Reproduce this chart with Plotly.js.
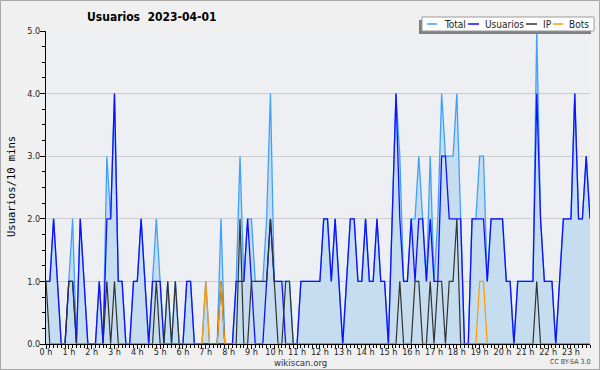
<!DOCTYPE html>
<html><head><meta charset="utf-8">
<script src="https://cdn.plot.ly/plotly-3.0.1.min.js"></script>
<style>html,body{margin:0;padding:0;background:#f0f0f0;}#chart{width:600px;height:370px;}</style>
</head><body><div id="chart"></div>
<script>
// 10-minute slots over the day (144 slots)
const slotMinutes = 10;
const total = [1,1,2,1,0,0,1,2,0,2, 1,0,0,0,1,0,3,2,4,1, 1,0,0,1,1,2,1,0,1,2,
  1,0,1,0,1,0,0,1,1,0, 0,0,1,0,0,0,2,0,0,0, 1,3,1,2,2,1,1,1,2,4,
  1,1,1,1,1,0,0,1,1,1, 1,1,1,2,2,1,2,1,0,1, 2,2,1,1,2,1,1,2,1,1,
  0,2,4,3,1,1,2,2,3,2, 1,3,1,2,4,3,3,3,4,2, 0,0,2,2,3,3,1,2,2,2,
  2,1,1,0,1,1,1,1,1,5, 2,1,1,1,0,1,2,2,2,4, 2,2,3,2];
const usuarios = [1,1,2,1,0,0,1,1,0,2, 1,0,0,0,1,0,2,2,4,1, 1,0,0,1,1,2,1,0,1,1,
  1,0,0,0,0,0,0,1,1,0, 0,0,0,0,0,0,0,0,0,0, 1,1,1,2,1,0,0,0,1,2,
  1,1,1,0,0,0,0,1,1,1, 1,1,1,2,2,1,2,1,0,1, 2,2,1,1,2,1,1,2,1,1,
  0,2,4,2,1,1,2,1,2,2, 1,2,1,1,3,3,2,2,2,2, 0,0,2,2,2,2,1,2,2,2,
  2,1,1,0,1,1,1,1,1,4, 2,1,1,1,0,1,2,2,2,4, 2,2,3,2];
const ip = [1,0,0,0,0,0,1,1,0,0, 0,0,0,0,0,0,1,0,1,0, 0,0,0,0,0,0,0,0,0,1,
  0,0,1,0,1,0,0,0,0,0, 0,0,0,0,0,0,1,0,0,0, 0,2,0,0,1,1,1,1,1,2,
  1,0,0,1,1,0,0,0,0,0, 0,0,0,0,0,0,0,0,0,0, 0,0,0,0,0,0,0,0,0,0,
  0,0,0,1,0,0,0,1,1,0, 0,1,0,1,1,0,1,1,2,0, 0,0,0,0,0,0,0,0,0,0,
  0,0,0,0,0,0,0,0,0,1, 0,0,0,0,0,0,0,0,0,0, 0,0,0,0];
const bots = [0,0,0,0,0,0,0,0,0,0, 0,0,0,0,0,0,0,0,0,0, 0,0,0,0,0,0,0,0,0,0,
  0,0,0,0,0,0,0,0,0,0, 0,0,1,0,0,0,1,0,0,0, 0,0,0,0,0,0,0,0,0,0,
  0,0,0,0,0,0,0,0,0,0, 0,0,0,0,0,0,0,0,0,0, 0,0,0,0,0,0,0,0,0,0,
  0,0,0,0,0,0,0,0,0,0, 0,0,0,0,0,0,0,0,0,0, 0,0,0,0,1,1,0,0,0,0,
  0,0,0,0,0,0,0,0,0,0, 0,0,0,0,0,0,0,0,0,0, 0,0,0,0];
const hourTicks = [0,1,2,3,4,5,6,7,8,9,10,11,12,13,14,15,16,17,18,19,20,21,22,23];
const hourLabels = ['0 h','1 h','2 h','3 h','4 h','5 h','6 h','7 h','8 h','9 h','10 h','11 h',
  '12 h','13 h','14 h','15 h','16 h','17 h','18 h','19 h','20 h','21 h','22 h','23 h'];
const yTicks = [0,1,2,3,4,5];
const yLabels = ['0.0','1.0','2.0','3.0','4.0','5.0'];
const seriesNames = ['Total','Usuarios','IP','Bots'];
const seriesColors = ['#3ea0ff','#1010ff','#333333','#ff9a00'];

const hours = total.map((_, i) => i * slotMinutes / 60);

const L = 46, R = 590, T = 31, B = 344;
const fx = p => (p - L) / (R - L);
const fy = p => (B - p) / (B - T);

const traces = [
  {x: hours, y: total, name: seriesNames[0], type: 'scatter', mode: 'lines',
   line: {color: seriesColors[0], width: 1.3}, fill: 'tozeroy', fillcolor: '#c6ddf0'},
  {x: hours, y: usuarios, name: seriesNames[1], type: 'scatter', mode: 'lines',
   line: {color: seriesColors[1], width: 1.3}},
  {x: hours, y: ip, name: seriesNames[2], type: 'scatter', mode: 'lines',
   line: {color: seriesColors[2], width: 1.2}},
  {x: hours, y: bots, name: seriesNames[3], type: 'scatter', mode: 'lines',
   line: {color: seriesColors[3], width: 1.2}}
];

const font = 'DejaVu Sans Condensed, DejaVu Sans, sans-serif';

// custom legend
const legendShapes = [
  {type: 'rect', xref: 'paper', yref: 'paper', x0: fx(419), x1: fx(591), y0: fy(34), y1: fy(20),
   fillcolor: '#808080', line: {width: 0}, layer: 'above'},
  {type: 'rect', xref: 'paper', yref: 'paper', x0: fx(422), x1: fx(594), y0: fy(31), y1: fy(17),
   fillcolor: '#ffffff', line: {color: '#9a9a9a', width: 1}, layer: 'above'}
];
const legendLineX = [[427,437],[468,479],[526,537],[553,563]];
const legendTextX = [443,484,542,568];
const legendAnn = [];
seriesNames.forEach((n, k) => {
  legendShapes.push({type: 'line', xref: 'paper', yref: 'paper',
    x0: fx(legendLineX[k][0]), x1: fx(legendLineX[k][1]), y0: fy(24), y1: fy(24),
    line: {color: seriesColors[k], width: 1.5}, layer: 'above'});
  legendAnn.push({xref: 'paper', yref: 'paper', x: fx(legendTextX[k] - 1), y: fy(24.5),
    xanchor: 'left', yanchor: 'middle', text: n, showarrow: false,
    font: {family: font, size: 10, color: '#222'}});
});

const layout = {
  width: 600, height: 370,
  margin: {l: L, r: 600 - R, t: T, b: 370 - B, pad: 0},
  paper_bgcolor: '#f0f0f0', plot_bgcolor: '#edeff2',
  showlegend: false,
  xaxis: {range: [0, 143 / 6], tickvals: hourTicks, ticktext: hourLabels,
    ticks: 'outside', ticklen: 4, tickcolor: '#000', tickwidth: 1,
    minor: {dtick: 1 / 6, ticks: 'outside', ticklen: 3, tickcolor: '#000', tickwidth: 1, tick0: 0},
    showgrid: false, zeroline: false, showline: true, linecolor: '#000', linewidth: 1,
    ticklabelstandoff: -5,
    tickfont: {family: font, size: 9, color: '#222'}, fixedrange: true},
  yaxis: {range: [0, 5], tickvals: yTicks, ticktext: yLabels,
    ticks: 'outside', ticklen: 5, tickcolor: '#000', tickwidth: 1,
    minor: {dtick: 0.25, ticks: 'outside', ticklen: 3, tickcolor: '#000', tickwidth: 1, showgrid: false},
    showgrid: true, gridcolor: '#cccccc', gridwidth: 1, zeroline: false,
    showline: true, linecolor: '#000', linewidth: 1,
    ticklabelstandoff: -2,
    tickfont: {family: font, size: 9, color: '#222'}, fixedrange: true},
  shapes: [
    {type: 'rect', xref: 'paper', yref: 'paper', x0: fx(0.5), x1: fx(599.5), y0: fy(369.5), y1: fy(0.5),
     line: {color: '#a8a8a8', width: 1}, layer: 'above'}
  ].concat(legendShapes),
  annotations: [
    {xref: 'paper', yref: 'paper', x: fx(85), y: fy(17), xanchor: 'left', yanchor: 'middle',
     text: '<b>Usuarios  2023-04-01</b>', showarrow: false,
     font: {family: font, size: 12, color: '#000'}},
    {xref: 'paper', yref: 'paper', x: fx(11), y: fy(187), xanchor: 'center', yanchor: 'middle',
     text: 'Usuarios/10 mins', textangle: -90, showarrow: false,
     font: {family: 'DejaVu Sans Mono, monospace', size: 10.5, color: '#000'}},
    {xref: 'paper', yref: 'paper', x: fx(300), y: fy(362), xanchor: 'center', yanchor: 'middle',
     text: 'wikiscan.org', showarrow: false, font: {family: font, size: 9.5, color: '#333'}},
    {xref: 'paper', yref: 'paper', x: fx(592), y: fy(362), xanchor: 'right', yanchor: 'middle',
     text: 'CC BY-SA 3.0', showarrow: false, font: {family: font, size: 7, color: '#444'}}
  ].concat(legendAnn)
};

Plotly.newPlot('chart', traces, layout, {staticPlot: true, displayModeBar: false});
</script>
</body></html>
